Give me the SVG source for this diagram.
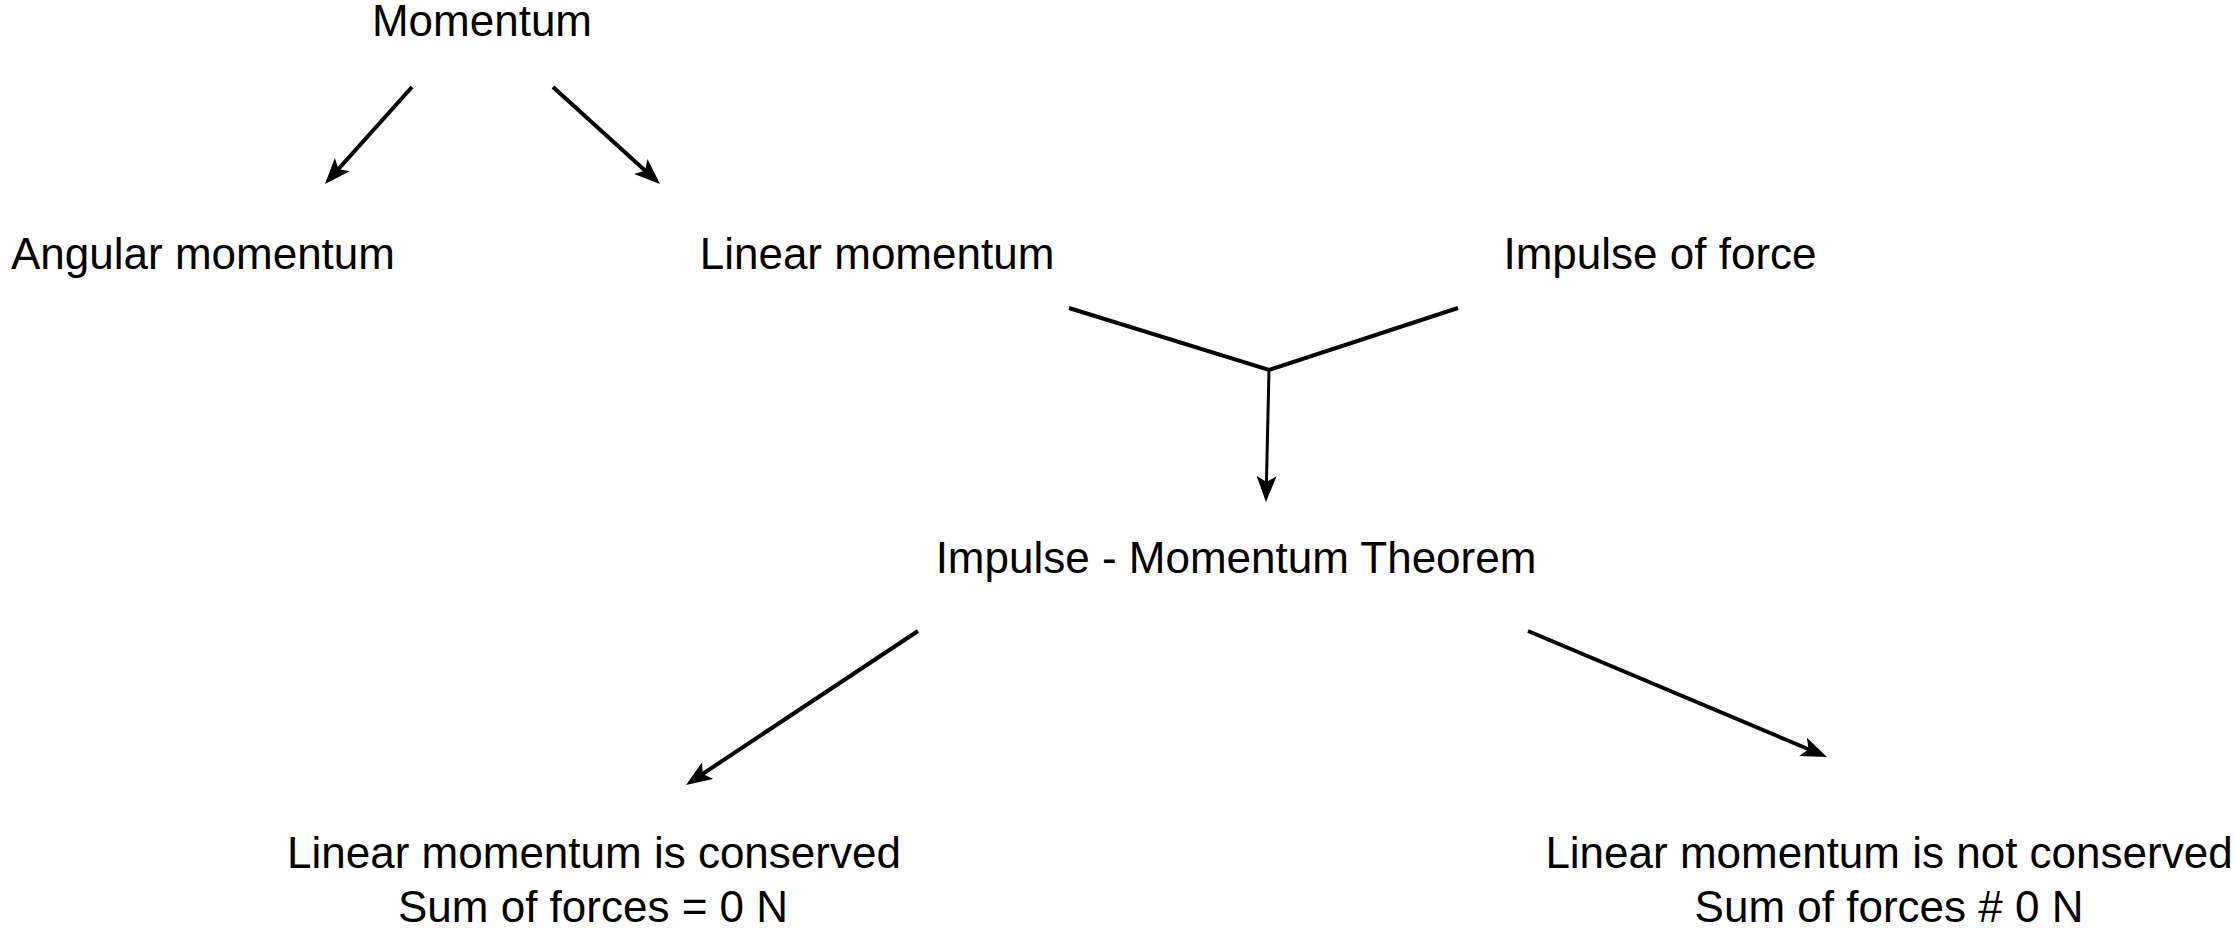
<svg xmlns="http://www.w3.org/2000/svg" width="2235" height="933" viewBox="0 0 2235 933">
<style>
  .lbl { font-family: "Liberation Sans", Arial, sans-serif; font-size: 44px; fill: #000; text-anchor: middle; }
  .con { stroke: #000; stroke-width: 4; fill: none; }
  .arr { marker-end: url(#ah); }
</style>
<defs>
  <marker id="ah" viewBox="0 0 26 20" markerWidth="26" markerHeight="20" refX="8" refY="10" orient="auto" markerUnits="userSpaceOnUse">
    <path d="M0,0 L26,10 L0,20 L6,10 z" fill="#000"/>
  </marker>
</defs>
<rect width="2235" height="933" fill="#fff"/>
<g id="connectors">
  <line class="con arr" x1="412" y1="87" x2="337" y2="170.6"/>
  <line class="con arr" x1="553" y1="87" x2="646.7" y2="171.9"/>
  <polyline class="con" points="1069,308 1269,370 1458,308"/>
  <line class="con arr" x1="1269" y1="370" x2="1266.4" y2="484" style="stroke-width:3"/>
  <line class="con arr" x1="918" y1="631" x2="701" y2="775"/>
  <line class="con arr" x1="1528" y1="631" x2="1810.4" y2="750"/>
</g>
<g id="n-momentum"><text class="lbl" x="482" y="36">Momentum</text></g>
<g id="n-angular"><text class="lbl" x="203" y="269">Angular momentum</text></g>
<g id="n-linear"><text class="lbl" x="877" y="269">Linear momentum</text></g>
<g id="n-impulse"><text class="lbl" x="1660" y="269">Impulse of force</text></g>
<g id="n-theorem"><text class="lbl" x="1236" y="573">Impulse - Momentum Theorem</text></g>
<g id="n-conserved">
  <text class="lbl" x="594" y="868">Linear momentum is conserved</text>
  <text class="lbl" x="593" y="922">Sum of forces = 0 N</text>
</g>
<g id="n-notconserved">
  <text class="lbl" x="1889" y="868">Linear momentum is not conserved</text>
  <text class="lbl" x="1889" y="922">Sum of forces # 0 N</text>
</g>
</svg>
